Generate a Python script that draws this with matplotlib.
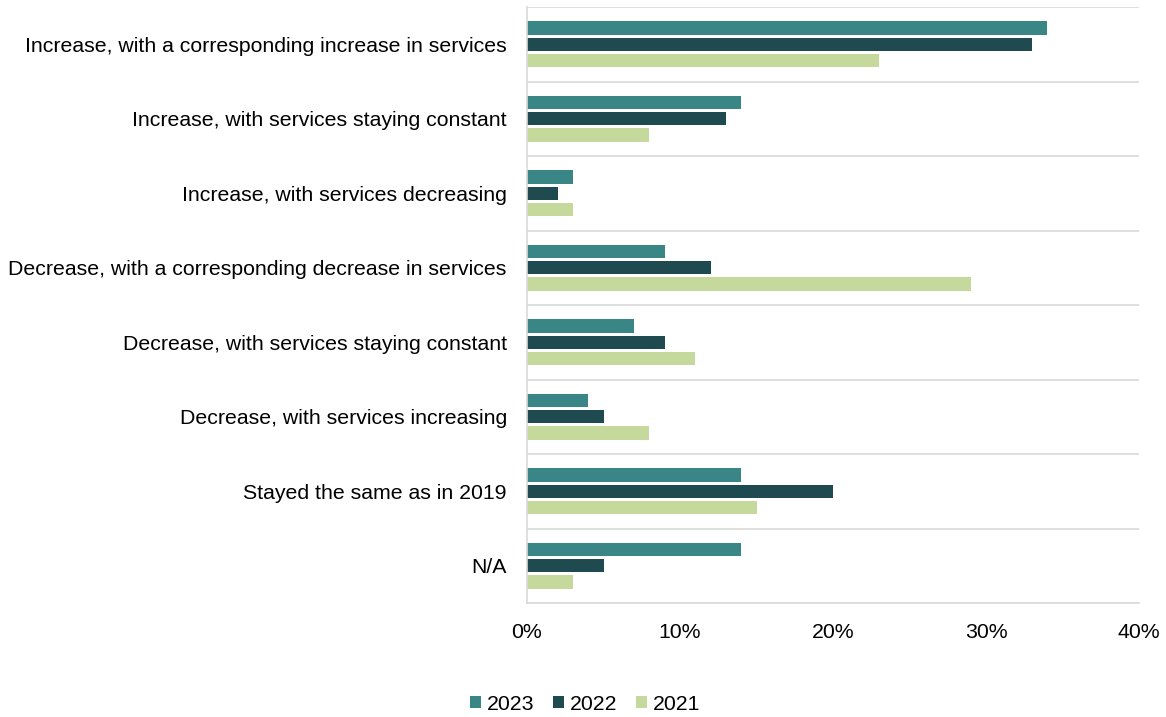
import matplotlib
matplotlib.use("Agg")
import matplotlib.pyplot as plt
import numpy as np
from matplotlib.ticker import FuncFormatter, MultipleLocator

categories = [
    "Increase, with a corresponding increase in services",
    "Increase, with services staying constant",
    "Increase, with services decreasing",
    "Decrease, with a corresponding decrease in services",
    "Decrease, with services staying constant",
    "Decrease, with services increasing",
    "Stayed the same as in 2019",
    "N/A",
]
series_names = ["2023", "2022", "2021"]
values_2023 = [34, 14, 3, 9, 7, 4, 14, 14]
values_2022 = [33, 13, 2, 12, 9, 5, 20, 5]
values_2021 = [23, 8, 3, 29, 11, 8, 15, 3]
colors = ["#3A8687", "#1F4B50", "#C5D99C"]

plt.rcParams['font.family'] = ['Liberation Sans', 'DejaVu Sans']

fig = plt.figure(figsize=(11.66, 7.17), dpi=100)
ax = fig.add_axes([527/1166, 1 - 603/717, (1139-527)/1166, (603-7)/717])

y = np.arange(len(categories))
step = 0.22
h = 0.18
for i, (vals, name, c) in enumerate(zip([values_2023, values_2022, values_2021], series_names, colors)):
    ax.barh(y + (i - 1) * step, vals, height=h, color=c, label=name)

ax.set_ylim(len(categories) - 0.5, -0.5)
ax.set_xlim(0, 40)
ax.xaxis.set_major_locator(MultipleLocator(10))
ax.xaxis.set_major_formatter(FuncFormatter(lambda v, p: f"{int(v)}%"))
ax.set_yticks(y)
ax.set_yticklabels(categories)
ax.tick_params(axis='both', length=0, labelsize=15.3, colors='#000000')
ax.tick_params(axis='y', pad=14.5)
ax.tick_params(axis='x', pad=14.5)

for b in np.arange(-0.5, len(categories), 1.0):
    ax.axhline(b, color='#D9D9D9', lw=1.2, zorder=0)

for s in ['top', 'right']:
    ax.spines[s].set_visible(False)
for s in ['left', 'bottom']:
    ax.spines[s].set_color('#D9D9D9')
    ax.spines[s].set_linewidth(1.2)

fig.legend(loc='center', bbox_to_anchor=(585/1166, 1 - 704/717), ncol=3, frameon=False,
           fontsize=15.3, handlelength=0.52, handleheight=0.52, handletextpad=0.25, columnspacing=0.9)

fig.savefig("out.png", dpi=100)
